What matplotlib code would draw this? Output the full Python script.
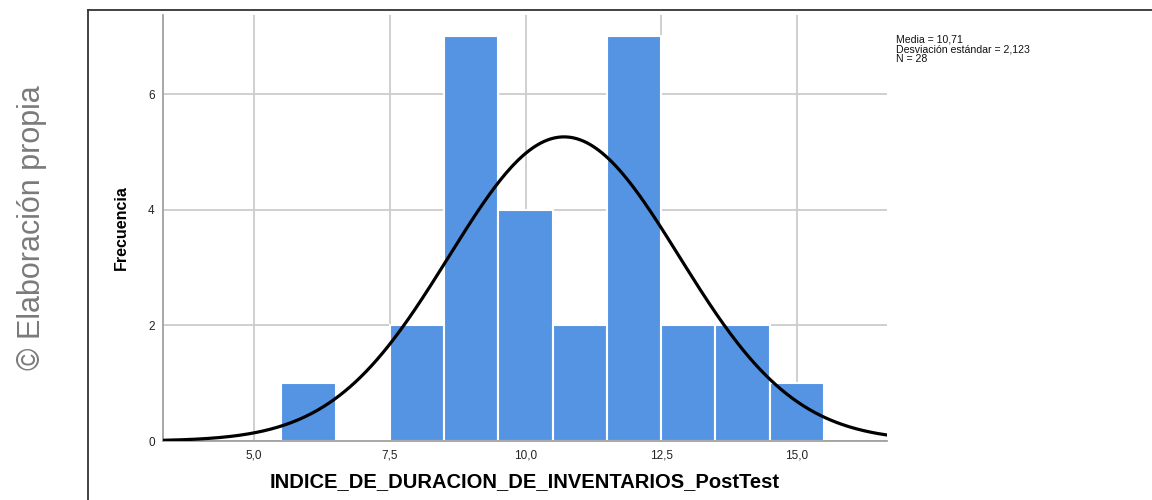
import numpy as np
import matplotlib.pyplot as plt
from matplotlib.lines import Line2D
from matplotlib.ticker import FuncFormatter

# histograma de INDICE_DE_DURACION_DE_INVENTARIOS_PostTest
bordes = [5.5, 6.5, 7.5, 8.5, 9.5, 10.5, 11.5, 12.5, 13.5, 14.5, 15.5]
frecuencias = [1, 0, 2, 7, 4, 2, 7, 2, 2, 1]
media = 10.71
desv = 2.123
n = 28

xticks = [5.0, 7.5, 10.0, 12.5, 15.0]
yticks = [0, 2, 4, 6]

plt.rcParams['font.family'] = ['Liberation Sans', 'DejaVu Sans']

fig = plt.figure(figsize=(11.52, 5), dpi=100)
ax = fig.add_axes([163/1152, 59/500, (887-163)/1152, (441-15)/500])

izq = np.array(bordes[:-1])
anchos = np.diff(bordes)
ax.bar(izq, frecuencias, width=anchos, align='edge', color='#5594e3',
       edgecolor='white', linewidth=1.5, zorder=2)

# curva normal escalada a la frecuencia
xs = np.linspace(3.32, 16.66, 400)
ys = n * 1.0 / (desv * np.sqrt(2*np.pi)) * np.exp(-0.5*((xs-media)/desv)**2)
ax.plot(xs, ys, color='black', linewidth=2.3, zorder=3)

ax.set_xlim(3.32, 16.66)
ax.set_ylim(0, 7.37)
ax.set_xticks(xticks)
ax.set_yticks(yticks)
ax.xaxis.set_major_formatter(FuncFormatter(lambda v, p: f'{v:.1f}'.replace('.', ',')))
ax.tick_params(length=0, labelsize=8.5, pad=6, colors='#222222')
ax.grid(True, color='#cccccc', linewidth=1.3, zorder=0)
ax.set_axisbelow(True)
for s in ['top', 'right']:
    ax.spines[s].set_visible(False)
for s in ['left', 'bottom']:
    ax.spines[s].set_color('#a0a0a0')
    ax.spines[s].set_linewidth(1.3)

ax.set_xlabel('INDICE_DE_DURACION_DE_INVENTARIOS_PostTest', fontsize=14.5,
              fontweight='bold', labelpad=8)
ax.set_ylabel('Frecuencia', fontsize=11.5, fontweight='bold', labelpad=14,
              family=['Liberation Sans Narrow', 'Liberation Sans'])

# estadisticos, una linea por texto
stats = [f'Media = {media:.2f}'.replace('.', ','),
         f'Desviación estándar = {desv:.3f}'.replace('.', ','),
         f'N = {n}']
for i, s in enumerate(stats):
    fig.text(896/1152, 1 - (40 + 9.5*i)/500, s, fontsize=7.6, va='center', ha='left',
             color='#111111')

fig.text(32/1152, 1 - 228/500, '© Elaboración propia', rotation=90,
         fontsize=22, color='#7a7a7a', ha='center', va='center')

# marco
fig.add_artist(Line2D([88/1152, 88/1152], [0, 1 - 10/500], color='#333333', linewidth=1.3))
fig.add_artist(Line2D([88/1152, 1], [1 - 10/500, 1 - 10/500], color='#333333', linewidth=1.3))

fig.savefig('out.png', dpi=100)
